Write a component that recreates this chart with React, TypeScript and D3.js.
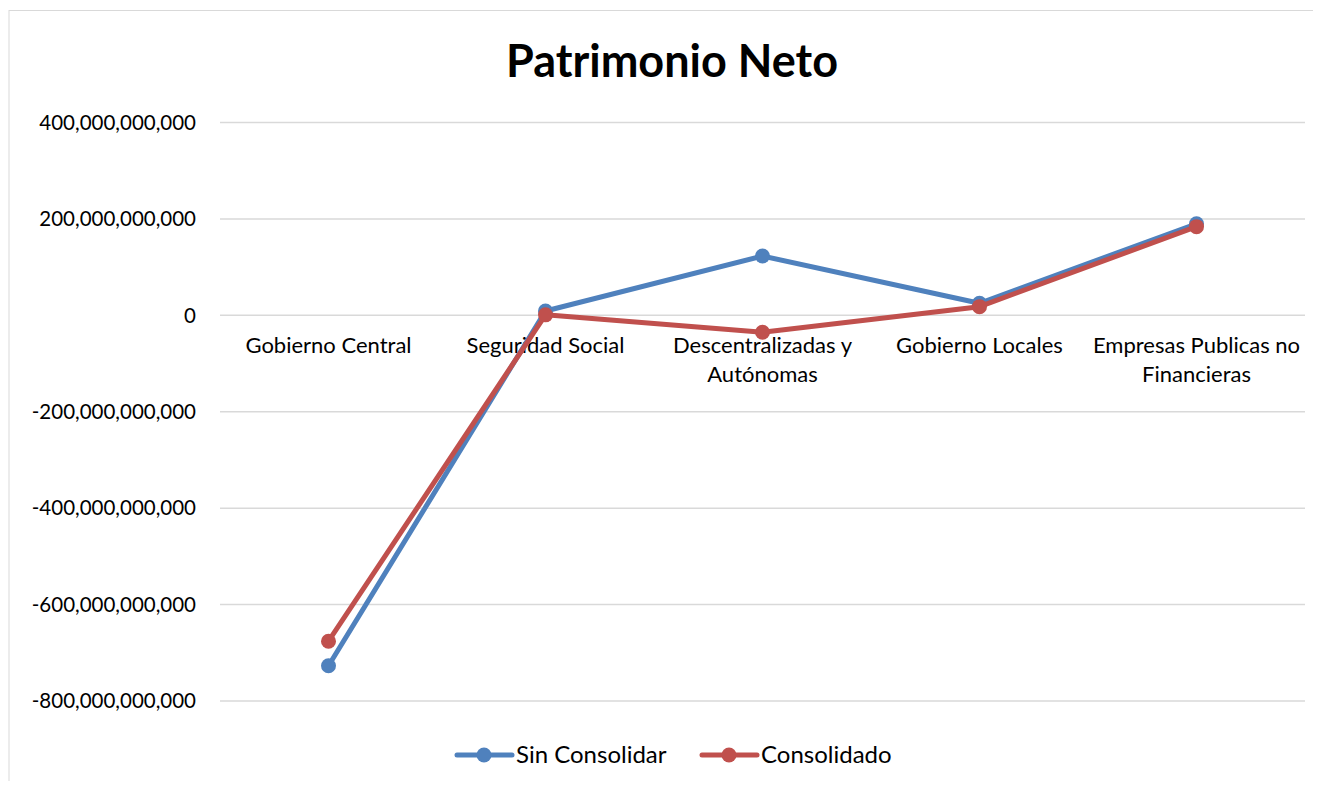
import React from "react";
import * as d3 from "d3";

// categorías y series
const categories = [
  ["Gobierno Central"],
  ["Seguridad Social"],
  ["Descentralizadas y", "Autónomas"],
  ["Gobierno Locales"],
  ["Empresas Publicas no", "Financieras"],
];
const sinConsolidar = [-727e9, 9e9, 123e9, 25e9, 190e9];
const consolidado = [-676e9, 1e9, -35e9, 18e9, 184e9];
const yTicks = [400e9, 200e9, 0, -200e9, -400e9, -600e9, -800e9];

const series = [
  { name: "Sin Consolidar", values: sinConsolidar, color: "#4f81bd" },
  { name: "Consolidado", values: consolidado, color: "#c0504d" },
];

const W = 1321;
const H = 789;
const FONT = "Lato, 'Open Sans', sans-serif";

export default function App() {
  const left = 220;
  const right = 1305;
  const top = 122.5;
  const bottom = 701;

  const x = d3
    .scaleBand<number>()
    .domain(categories.map((_, i) => i))
    .range([left, right]);
  const y = d3.scaleLinear().domain([-800e9, 400e9]).range([bottom, top]);
  const fmt = (v: number) => d3.format(",")(v).replace("\u2212", "-");
  const cx = (i: number) => (x(i) ?? 0) + x.bandwidth() / 2;

  const line = d3
    .line<number>()
    .x((_, i) => cx(i))
    .y((d) => y(d));

  return (
    <div style={{ margin: -8 }}>
      <svg width={W} height={H} style={{ display: "block", fontFamily: FONT }}>
        <rect x={0} y={0} width={W} height={H} fill="#fff" />
        <rect x={9} y={10.5} width={1311} height={790} fill="none" stroke="#d9d9d9" strokeWidth={1} />
        <text
          x={672}
          y={77}
          textAnchor="middle"
          fontSize={45}
          fontWeight="bold"
          fill="#000"
        >
          Patrimonio Neto
        </text>

        {/* grid + y labels */}
        {yTicks.map((t) => (
          <g key={t}>
            <line x1={left} x2={right} y1={y(t)} y2={y(t)} stroke="#d9d9d9" strokeWidth={1.5} />
            <text x={196} y={y(t)} dy="0.35em" textAnchor="end" fontSize={20.5} fill="#000">
              {fmt(t)}
            </text>
          </g>
        ))}

        {/* category labels */}
        {categories.map((lines, i) => (
          <text key={i} x={cx(i)} y={y(0) + 38} textAnchor="middle" fontSize={22} fill="#000">
            {lines.map((l, k) => (
              <tspan key={k} x={cx(i)} dy={k === 0 ? 0 : 29}>
                {l}
              </tspan>
            ))}
          </text>
        ))}

        {/* series */}
        {series.map((s) => (
          <g key={s.name}>
            <path d={line(s.values) ?? ""} fill="none" stroke={s.color} strokeWidth={5} strokeLinejoin="round" />
            {s.values.map((v, i) => (
              <circle key={i} cx={cx(i)} cy={y(v)} r={7.5} fill={s.color} />
            ))}
          </g>
        ))}

        {/* legend */}
        {series.map((s, k) => {
          const lx = 457 + k * 245;
          return (
            <g key={s.name}>
              <line x1={lx} x2={lx + 55} y1={755} y2={755} stroke={s.color} strokeWidth={5} strokeLinecap="round" />
              <circle cx={lx + 27} cy={755} r={7.5} fill={s.color} />
              <text x={lx + 59} y={755} dy="0.35em" fontSize={24} fill="#000">
                {s.name}
              </text>
            </g>
          );
        })}
      </svg>
    </div>
  );
}
